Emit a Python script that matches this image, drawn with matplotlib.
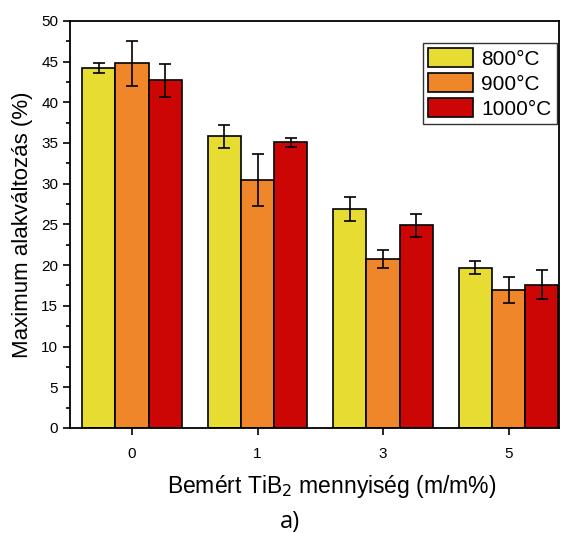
import numpy as np
import matplotlib.pyplot as plt
from matplotlib.ticker import MultipleLocator

plt.rcParams['font.family'] = ['Liberation Sans', 'DejaVu Sans']

# Data
categories = ['0', '1', '3', '5']
series = ['800°C', '900°C', '1000°C']
values_800 = [44.2, 35.8, 26.9, 19.7]
values_900 = [44.8, 30.4, 20.7, 16.9]
values_1000 = [42.7, 35.1, 24.9, 17.6]
err_800 = [0.65, 1.4, 1.45, 0.8]
err_900 = [2.75, 3.2, 1.1, 1.6]
err_1000 = [2.0, 0.55, 1.4, 1.75]
colors = ['#E6DC32', '#F0862A', '#CC0605']

fig = plt.figure(figsize=(5.69, 5.33), dpi=100)
ax = fig.add_axes([0.123, 0.197, 0.859, 0.764])

x = np.arange(len(categories))
w = 0.265
vals = [values_800, values_900, values_1000]
errs = [err_800, err_900, err_1000]
for i in range(3):
    ax.bar(x + (i - 1) * w, vals[i], w, yerr=errs[i], color=colors[i],
           edgecolor='black', linewidth=1.2, label=series[i],
           error_kw=dict(ecolor='black', elinewidth=1.2, capsize=4, capthick=1.2))

ax.set_xlim(-0.495, 3.4)
ax.set_ylim(0, 50)
ax.set_xticks(x)
ax.set_xticklabels(categories)
ax.yaxis.set_major_locator(MultipleLocator(5))
ax.yaxis.set_minor_locator(MultipleLocator(2.5))
ax.tick_params(axis='both', which='major', direction='out', length=5, width=1.2, labelsize=11)
ax.tick_params(axis='x', which='major', pad=9)
ax.tick_params(axis='y', which='minor', direction='out', length=3, width=1.2)
ax.tick_params(axis='x', which='minor', bottom=False)
for s in ax.spines.values():
    s.set_linewidth(1.3)

ax.set_ylabel('Maximum alakváltozás (%)', fontsize=16, labelpad=6)
ax.set_xlabel('Bemért TiB$_2$ mennyiség (m/m%)', fontsize=16.5)
ax.xaxis.set_label_coords(0.536, -0.11)
fig.text(0.51, 0.01, 'a)', fontsize=17, family=['Open Sans', 'DejaVu Sans'], ha='center')

leg = ax.legend(loc='upper right', fontsize=15, frameon=True, fancybox=False,
                edgecolor='black', handlelength=2.15, handleheight=1.05,
                borderpad=0.25, labelspacing=0.2, handletextpad=0.4,
                borderaxespad=0, bbox_to_anchor=(0.996, 0.946))
leg.get_frame().set_linewidth(1.0)

plt.savefig('out.png', dpi=100)
